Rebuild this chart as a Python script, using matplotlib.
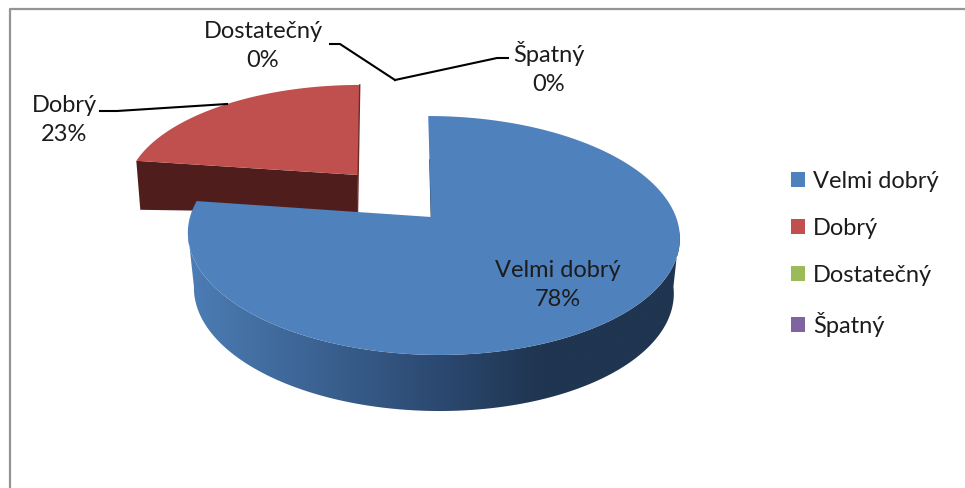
import numpy as np
import matplotlib
matplotlib.use("Agg")
import matplotlib.pyplot as plt
from matplotlib.colors import LinearSegmentedColormap
from matplotlib.patches import Patch, Polygon

categories = ["Velmi dobrý", "Dobrý", "Dostatečný", "Špatný"]
values = [78, 23, 0, 0]
colors = ["#4f81bd", "#c0504d", "#9bbb59", "#8064a2"]

plt.rcParams["font.family"] = ["Lato", "DejaVu Sans"]
TEXT_COLOR = "#1c1c1c"
FONT_SIZE = 17


def project(theta, x0, y0, cx, cy, skew=-5.5, k=0.1548):
    # theta is clockwise from 12 o'clock, in degrees. Perspective view of the disc.
    t = np.radians(theta)
    u, v = np.sin(t), np.cos(t)
    d = 1 + k * v
    return x0 + (cx * u + skew * v) / d, y0 - cy * v / d


def arc(start, end, *args, **kwargs):
    x, y = project(np.linspace(start, end, 200), *args, **kwargs)
    return np.column_stack([x, y])


fig = plt.figure(figsize=(9.65, 4.88), dpi=100)
ax = fig.add_axes([0, 0, 1, 1])

# Slice angles come from the values
edges = np.concatenate([[0], np.cumsum(values)]) / sum(values) * 360
blue_start, blue_end = edges[0], edges[1]
red_start, red_end = edges[1], edges[2]

# Exploded red slice: cut face first, then the top
red_apex = (358, 175)
red_top = arc(red_start, red_end, red_apex[0], red_apex[1], 229, 104, skew=2)
ax.add_patch(Polygon([red_top[0], red_apex, (357, 213), (red_top[0][0] + 4, red_top[0][1] + 49)],
                     facecolor="#4f1e1c", edgecolor="none"))
ax.plot([red_top[-1][0], 357.5], [red_top[-1][1], 213], color="#6b2c2a", lw=1)
ax.add_patch(Polygon(np.vstack([[red_apex], red_top]), facecolor=colors[1], edgecolor="none"))

# Blue rim, gradient clipped to the band between the two outlines
rim_top = arc(97, 263, 433, 217, 243, 116.6)
rim_bottom = arc(97, 263, 433, 272, 237, 117.5)
rim = Polygon(np.vstack([rim_top, rim_bottom[::-1]]), facecolor="none", edgecolor="none")
ax.add_patch(rim)
rim_cmap = LinearSegmentedColormap.from_list(
    "rim", [(0, "#4c7db5"), (0.5, "#2c4a72"), (0.72, "#1f3550"), (1, "#1f3550")])
grad = ax.imshow(np.linspace(0, 1, 256).reshape(1, -1), cmap=rim_cmap, aspect="auto",
                 extent=[188, 680, 488, 0], zorder=1)
grad.set_clip_path(rim)

# Thin visible edge of the inner blue wall, then the top face
ax.plot([430, 431.5], [160, 217], color="#1f3550", lw=1.2, zorder=2)
blue_top = arc(blue_start, blue_end, 433, 217, 243, 116.6)
ax.add_patch(Polygon(np.vstack([[(431, 217)], blue_top]), facecolor=colors[0],
                     edgecolor="none", zorder=3))

# Frame of the chart area
ax.plot([9.5, 9.5, 965], [488, 9, 9], color="#949494", lw=1.6, zorder=4)

# Leader lines
line_style = dict(color="black", lw=1.5, zorder=5)
ax.plot([100, 117, 227], [111, 111, 104], **line_style)
ax.plot([330, 340, 395], [44, 44, 80], **line_style)
ax.plot([395, 497, 508], [80, 58, 58], **line_style)

# Data labels
label_pos = [(558, 285), (64, 120), (263, 46), (549, 68)]
for name, val, (x, y) in zip(categories, values, label_pos):
    ax.text(x, y, f"{name}\n{val}%", ha="center", va="center", fontsize=FONT_SIZE,
            color=TEXT_COLOR, linespacing=1.5, zorder=6)

ax.set_xlim(0, 965)
ax.set_ylim(488, 0)
ax.axis("off")

handles = [Patch(facecolor=c, edgecolor="none") for c in colors]
ax.legend(handles, categories, loc="upper left", bbox_to_anchor=(791 / 965, 1 - 171 / 488),
          frameon=False, fontsize=FONT_SIZE, labelcolor=TEXT_COLOR, handlelength=0.6,
          handleheight=0.6, handletextpad=0.32, labelspacing=1.1, borderpad=0, borderaxespad=0)

fig.savefig("out.png", dpi=100, facecolor="white")
